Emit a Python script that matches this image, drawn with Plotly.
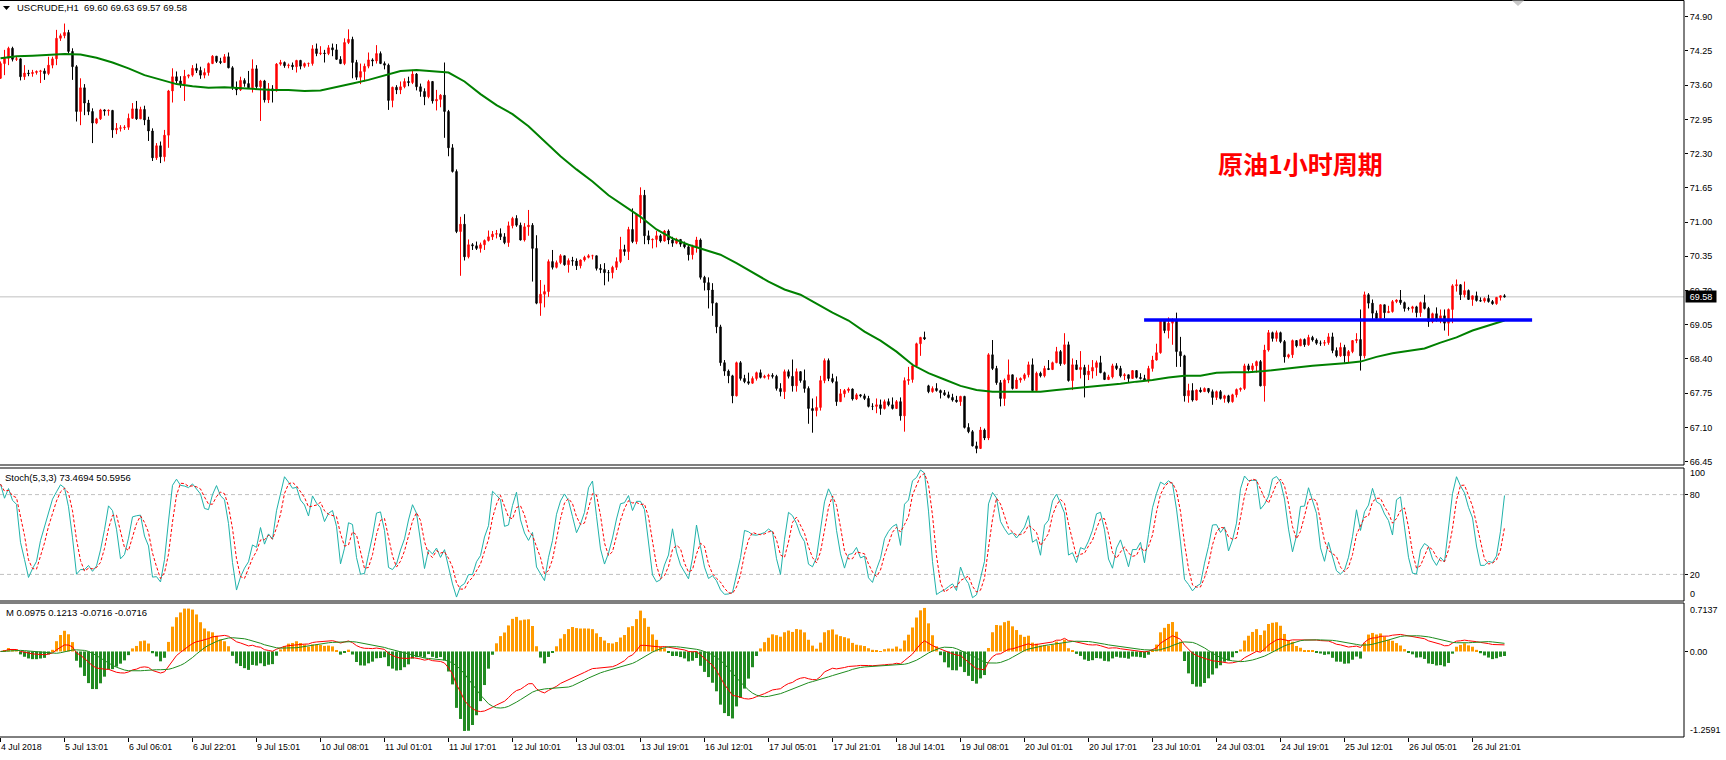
import plotly.graph_objects as go
import numpy as np

# ---------------- data ----------------
first_open = 73.73
close = [
74.01, 74.11, 74.30, 74.09, 74.10, 73.76, 73.83, 73.82, 73.84, 73.86,
73.87, 73.82, 73.98, 74.10, 74.49, 74.54, 74.60, 74.24, 73.95, 73.10,
73.55, 73.26, 73.10, 72.88, 72.96, 73.13, 73.11, 73.12, 72.75, 72.78,
72.79, 72.80, 72.97, 73.15, 72.96, 73.14, 72.94, 72.73, 72.22, 72.45,
72.24, 72.65, 73.49, 73.76, 73.68, 73.62, 73.77, 73.79, 73.92, 73.88,
73.79, 73.84, 74.01, 74.15, 74.05, 74.03, 74.14, 73.93, 73.55, 73.51,
73.69, 73.63, 73.55, 73.91, 73.57, 73.68, 73.32, 73.53, 73.49, 74.00,
74.03, 73.97, 73.98, 73.95, 74.07, 73.96, 74.01, 74.01, 74.29, 74.20,
74.21, 74.20, 74.31, 74.27, 74.09, 74.01, 74.41, 74.47, 74.03, 73.75,
73.86, 73.96, 74.08, 74.06, 74.20, 74.01, 73.98, 73.31, 73.56, 73.51,
73.57, 73.67, 73.65, 73.81, 73.57, 73.48, 73.38, 73.67, 73.30, 73.33,
73.41, 73.10, 72.41, 71.96, 70.82, 70.96, 70.34, 70.57, 70.55, 70.50,
70.57, 70.65, 70.72, 70.77, 70.78, 70.72, 70.61, 70.93, 71.07, 70.94,
70.66, 70.91, 70.94, 70.50, 69.46, 69.63, 69.68, 70.25, 70.14, 70.23,
70.36, 70.19, 70.27, 70.26, 70.17, 70.28, 70.33, 70.36, 70.36, 70.12,
70.10, 70.04, 70.04, 70.14, 70.25, 70.48, 70.44, 70.86, 70.63, 71.14,
71.51, 70.74, 70.66, 70.67, 70.74, 70.64, 70.83, 70.66, 70.60, 70.67,
70.58, 70.53, 70.38, 70.53, 70.66, 69.95, 69.85, 69.71, 69.46, 69.01,
68.33, 68.17, 68.08, 67.70, 68.33, 68.03, 67.97, 67.94, 68.03, 68.14,
68.05, 68.07, 68.09, 68.07, 67.84, 67.78, 68.16, 68.07, 67.89, 68.16,
67.99, 67.84, 67.46, 67.42, 67.48, 67.99, 68.37, 68.03, 67.97, 67.59,
67.74, 67.80, 67.83, 67.64, 67.72, 67.70, 67.65, 67.50, 67.50, 67.53,
67.46, 67.59, 67.53, 67.46, 67.59, 67.32, 67.99, 68.01, 68.27, 68.69,
68.81, 68.78, 67.78, 67.84, 67.80, 67.76, 67.72, 67.67, 67.62, 67.59,
67.69, 67.10, 67.02, 66.75, 66.70, 67.05, 66.90, 68.48, 68.22, 67.95,
67.65, 68.00, 68.10, 67.84, 68.00, 68.03, 68.10, 68.29, 67.80, 68.13,
68.08, 68.22, 68.20, 68.33, 68.54, 68.31, 68.67, 67.99, 68.29, 68.20,
68.24, 68.10, 68.17, 68.24, 68.33, 68.14, 68.01, 68.06, 68.27, 68.22,
68.08, 68.10, 68.03, 68.18, 68.05, 68.03, 68.00, 68.22, 68.38, 68.52,
69.14, 68.94, 69.08, 69.15, 68.54, 68.46, 67.70, 67.80, 67.62, 67.81,
67.78, 67.84, 67.78, 67.67, 67.78, 67.65, 67.70, 67.59, 67.72, 67.82,
67.84, 68.27, 68.20, 68.27, 68.35, 67.89, 68.57, 68.90, 68.79, 68.90,
68.73, 68.44, 68.48, 68.75, 68.65, 68.77, 68.67, 68.81, 68.76, 68.70,
68.70, 68.71, 68.82, 68.56, 68.46, 68.62, 68.46, 68.54, 68.75, 68.77,
68.46, 69.62, 69.46, 69.27, 69.17, 69.43, 69.28, 69.30, 69.49, 69.52,
69.47, 69.36, 69.36, 69.39, 69.28, 69.47, 69.36, 69.11, 69.26, 69.15,
69.22, 69.08, 69.34, 69.79, 69.81, 69.62, 69.70, 69.53, 69.60, 69.51,
69.50, 69.55, 69.49, 69.45, 69.57, 69.60, 69.58,
]
high = [
74.05, 74.27, 74.33, 74.33, 74.14, 74.11, 73.98, 73.89, 73.89, 73.88,
73.89, 73.92, 74.14, 74.14, 74.65, 74.58, 74.77, 74.65, 74.30, 73.98,
73.73, 73.62, 73.32, 73.16, 72.98, 73.15, 73.14, 73.14, 73.13, 72.88,
72.84, 72.84, 73.06, 73.26, 73.30, 73.19, 73.21, 73.00, 72.78, 72.50,
72.53, 72.75, 73.51, 73.92, 73.86, 73.77, 73.89, 73.80, 73.98, 74.01,
73.95, 73.92, 74.03, 74.17, 74.15, 74.12, 74.19, 74.22, 73.96, 73.67,
73.76, 73.73, 73.87, 74.09, 73.98, 73.70, 73.70, 73.64, 73.60, 74.02,
74.08, 74.05, 74.01, 74.03, 74.08, 74.08, 74.03, 74.03, 74.36, 74.39,
74.34, 74.27, 74.36, 74.39, 74.38, 74.15, 74.49, 74.66, 74.52, 74.08,
74.01, 74.01, 74.22, 74.11, 74.36, 74.24, 74.05, 74.01, 73.57, 73.60,
73.67, 73.73, 73.76, 73.89, 73.83, 73.63, 73.54, 73.70, 73.67, 73.51,
73.43, 74.03, 73.13, 72.48, 72.00, 71.10, 71.15, 70.67, 70.60, 70.63,
70.61, 70.67, 70.84, 70.83, 70.85, 70.88, 70.79, 71.01, 71.10, 71.13,
70.99, 70.98, 71.23, 70.98, 70.75, 69.90, 69.81, 70.29, 70.47, 70.27,
70.39, 70.36, 70.31, 70.34, 70.31, 70.29, 70.36, 70.39, 70.38, 70.34,
70.20, 70.22, 70.09, 70.17, 70.33, 70.72, 70.57, 70.91, 71.26, 71.17,
71.66, 71.61, 70.84, 70.69, 70.83, 70.77, 70.85, 70.86, 70.72, 70.70,
70.65, 70.63, 70.58, 70.57, 70.72, 70.69, 69.98, 69.95, 69.84, 69.47,
69.05, 68.38, 68.20, 68.10, 68.35, 68.36, 68.10, 68.14, 68.07, 68.16,
68.20, 68.10, 68.12, 68.13, 68.10, 67.94, 68.20, 68.20, 68.39, 68.22,
68.16, 68.20, 67.88, 67.65, 67.69, 68.08, 68.41, 68.41, 68.12, 68.07,
67.83, 67.83, 67.86, 67.84, 67.75, 67.73, 67.74, 67.70, 67.56, 67.65,
67.63, 67.63, 67.65, 67.67, 67.62, 67.67, 68.05, 68.25, 68.31, 68.71,
68.82, 68.92, 67.91, 67.88, 67.94, 67.82, 67.81, 67.78, 67.74, 67.70,
67.70, 67.70, 67.18, 67.05, 66.83, 67.11, 67.08, 68.51, 68.76, 68.27,
68.00, 68.03, 68.39, 68.10, 68.05, 68.05, 68.13, 68.35, 68.41, 68.16,
68.16, 68.27, 68.38, 68.35, 68.63, 68.57, 68.89, 68.73, 68.41, 68.38,
68.55, 68.29, 68.29, 68.38, 68.37, 68.46, 68.16, 68.10, 68.31, 68.32,
68.27, 68.13, 68.10, 68.19, 68.18, 68.13, 68.10, 68.27, 68.46, 68.69,
69.15, 69.15, 69.19, 69.17, 69.28, 68.82, 68.48, 67.93, 67.94, 67.82,
67.86, 67.86, 67.84, 67.82, 67.80, 67.81, 67.72, 67.72, 67.74, 67.84,
67.86, 68.31, 68.31, 68.32, 68.37, 68.38, 68.67, 68.95, 68.92, 68.94,
68.92, 68.76, 68.50, 68.77, 68.73, 68.79, 68.79, 68.86, 68.84, 68.79,
68.75, 68.76, 68.89, 68.90, 68.62, 68.71, 68.67, 68.57, 68.76, 68.89,
69.34, 69.68, 69.65, 69.53, 69.32, 69.44, 69.41, 69.41, 69.52, 69.53,
69.71, 69.49, 69.39, 69.41, 69.41, 69.49, 69.62, 69.39, 69.28, 69.38,
69.34, 69.34, 69.36, 69.82, 69.91, 69.82, 69.87, 69.72, 69.60, 69.68,
69.57, 69.57, 69.62, 69.52, 69.57, 69.60, 69.63,
]
low = [
73.72, 73.79, 73.98, 74.05, 74.06, 73.69, 73.70, 73.77, 73.76, 73.80,
73.64, 73.70, 73.79, 73.92, 73.98, 74.44, 74.49, 74.20, 73.70, 72.91,
72.84, 73.03, 73.03, 72.50, 72.86, 72.94, 73.02, 73.02, 72.60, 72.67,
72.72, 72.75, 72.75, 72.96, 72.94, 72.96, 72.84, 72.54, 72.16, 72.18,
72.12, 72.15, 72.41, 73.27, 73.64, 73.55, 73.30, 73.73, 73.76, 73.83,
73.72, 73.73, 73.78, 74.00, 74.02, 74.00, 74.02, 73.92, 73.51, 73.41,
73.49, 73.57, 73.54, 73.46, 73.51, 72.92, 73.27, 73.26, 73.27, 73.48,
73.97, 73.93, 73.92, 73.89, 73.84, 73.90, 73.93, 73.95, 73.97, 74.15,
74.17, 74.03, 74.17, 74.15, 74.08, 74.00, 73.98, 74.38, 73.73, 73.70,
73.62, 73.67, 73.92, 73.96, 74.01, 74.00, 73.90, 73.13, 73.18, 73.43,
73.43, 73.54, 73.58, 73.62, 73.50, 73.38, 73.22, 73.35, 73.25, 73.12,
73.18, 72.60, 72.25, 71.94, 70.79, 69.98, 70.27, 70.31, 70.47, 70.47,
70.42, 70.47, 70.63, 70.66, 70.69, 70.66, 70.58, 70.53, 70.88, 70.91,
70.65, 70.63, 70.74, 69.87, 69.44, 69.22, 69.38, 69.58, 70.10, 70.12,
70.20, 70.17, 70.04, 70.17, 70.09, 70.12, 70.25, 70.31, 70.29, 70.08,
70.03, 69.80, 69.87, 69.93, 70.09, 70.22, 70.36, 70.28, 70.60, 70.58,
70.98, 70.58, 70.58, 70.50, 70.52, 70.61, 70.63, 70.58, 70.53, 70.58,
70.53, 70.50, 70.27, 70.29, 70.42, 69.91, 69.70, 69.36, 69.22, 68.89,
68.27, 68.08, 67.94, 67.56, 67.69, 67.99, 67.94, 67.91, 67.93, 67.99,
68.03, 68.03, 68.01, 68.03, 67.80, 67.69, 67.64, 68.03, 67.78, 67.78,
67.95, 67.76, 67.17, 67.00, 67.31, 67.42, 67.94, 67.98, 67.94, 67.51,
67.59, 67.67, 67.76, 67.61, 67.62, 67.67, 67.62, 67.48, 67.43, 67.37,
67.34, 67.44, 67.50, 67.44, 67.45, 67.23, 67.02, 67.91, 67.95, 68.24,
68.46, 68.76, 67.75, 67.76, 67.78, 67.65, 67.70, 67.65, 67.59, 67.57,
67.51, 67.08, 66.99, 66.74, 66.61, 66.69, 66.86, 66.86, 68.19, 67.91,
67.50, 67.51, 67.94, 67.82, 67.91, 67.95, 67.99, 68.05, 67.79, 67.88,
68.05, 68.05, 68.19, 68.19, 68.32, 68.27, 68.29, 67.97, 67.81, 68.19,
68.03, 67.67, 68.00, 68.03, 68.08, 68.13, 68.00, 68.00, 68.03, 68.19,
68.05, 68.00, 67.95, 68.05, 68.03, 68.01, 67.99, 67.95, 68.16, 68.37,
68.50, 68.89, 68.79, 68.67, 68.25, 68.25, 67.59, 67.57, 67.59, 67.61,
67.76, 67.78, 67.75, 67.53, 67.62, 67.63, 67.57, 67.56, 67.57, 67.67,
67.78, 67.81, 68.16, 68.14, 68.14, 67.88, 67.59, 68.54, 68.73, 68.73,
68.70, 68.33, 68.41, 68.42, 68.62, 68.65, 68.63, 68.65, 68.73, 68.67,
68.65, 68.65, 68.67, 68.51, 68.43, 68.44, 68.33, 68.33, 68.51, 68.70,
68.18, 68.41, 69.36, 69.15, 69.15, 69.15, 69.17, 69.28, 69.28, 69.46,
69.43, 69.30, 69.32, 69.28, 69.19, 69.20, 69.34, 69.01, 69.08, 69.11,
69.08, 68.94, 68.84, 69.08, 69.68, 69.52, 69.57, 69.52, 69.41, 69.49,
69.49, 69.47, 69.47, 69.43, 69.43, 69.51, 69.57,
]
gap_open = {232: 67.89}

# moving average read every 4 bars
ma_step = 4
ma_vals = [
74.11, 74.15, 74.16, 74.17, 74.19, 74.18, 74.12, 74.03, 73.92, 73.79,
73.70, 73.62, 73.58, 73.55, 73.56, 73.54, 73.53, 73.51, 73.51, 73.49,
73.50, 73.56, 73.63, 73.70, 73.79, 73.87, 73.89, 73.87, 73.84, 73.67,
73.43, 73.22, 73.05, 72.82, 72.53, 72.25, 72.00, 71.77, 71.51, 71.30,
71.10, 70.86, 70.69, 70.57, 70.48, 70.38, 70.22, 70.04, 69.87, 69.72,
69.62, 69.45, 69.28, 69.13, 68.92, 68.75, 68.54, 68.29, 68.13, 68.01,
67.89, 67.81, 67.78, 67.78, 67.78, 67.78, 67.81, 67.84, 67.86, 67.89,
67.93, 67.97, 68.00, 68.05, 68.08, 68.08, 68.14, 68.15, 68.15, 68.17,
68.21, 68.24, 68.27, 68.29, 68.32, 68.35, 68.44, 68.51, 68.56, 68.60,
68.71, 68.81, 68.94, 69.03, 69.13,
]

tick_every = 16
tick_labels = [
    "4 Jul 2018", "5 Jul 13:01", "6 Jul 06:01", "6 Jul 22:01", "9 Jul 15:01",
    "10 Jul 08:01", "11 Jul 01:01", "11 Jul 17:01", "12 Jul 10:01", "13 Jul 03:01",
    "13 Jul 19:01", "16 Jul 12:01", "17 Jul 05:01", "17 Jul 21:01", "18 Jul 14:01",
    "19 Jul 08:01", "20 Jul 01:01", "20 Jul 17:01", "23 Jul 10:01", "24 Jul 03:01",
    "24 Jul 19:01", "25 Jul 12:01", "26 Jul 05:01", "26 Jul 21:01",
]
price_ticks = [66.45, 67.10, 67.75, 68.40, 69.05, 69.70, 70.35, 71.00,
               71.65, 72.30, 72.95, 73.60, 74.25, 74.90]
last_price = 69.58
blue_level = 69.14
blue_bars = [285.9, 382.9]
macd_max, macd_min = 0.7137, -1.2591
title_text = "USCRUDE,H1\u00a0\u00a069.60 69.63 69.57 69.58"
stoch_text = "Stoch(5,3,3) 73.4694 50.5956"
macd_text = "M 0.0975 0.1213 -0.0716 -0.0716"
note_text = "原油1小时周期"

# ---------------- derived series ----------------
n = min(len(close), len(high), len(low))
close = close[:n]
xs = list(range(n))
opens = [first_open] + close[:-1]
for k, v in gap_open.items():
    if k < n:
        opens[k] = v
hi = [max(h, o, c) for h, o, c in zip(high[:n], opens, close)]
lo = [min(l, o, c) for l, o, c in zip(low[:n], opens, close)]

C = np.array(close); H = np.array(hi); L = np.array(lo)
num = np.zeros(n); den = np.zeros(n)
for i in range(n):
    a = max(0, i - 4)
    ll = L[a:i + 1].min(); hh = H[a:i + 1].max()
    num[i] = C[i] - ll; den[i] = hh - ll
K = np.zeros(n)
for i in range(n):
    a = max(0, i - 2)
    d = den[a:i + 1].sum()
    K[i] = 100 * num[a:i + 1].sum() / d if d > 0 else 50
D = np.array([K[max(0, i - 2):i + 1].mean() for i in range(n)])


def ema(v, p):
    al = 2.0 / (p + 1)
    out = [v[0]]
    for val in v[1:]:
        out.append(out[-1] + al * (val - out[-1]))
    return np.array(out)


macd = ema(C, 12) - ema(C, 26)
sig = np.array([macd[max(0, i - 8):i + 1].mean() for i in range(n)])
hist = 3 * (macd - sig)
hist_colors = ["#FF9A00" if v >= 0 else "#228B22" for v in hist]

# ---------------- geometry ----------------
PLOT_W = 1684
PLOT_H = 737
FONT = "Liberation Sans, Arial, sans-serif"


def py(p):
    return 1 - p / PLOT_H


def pxp(p):
    return p / PLOT_W


fig = go.Figure()
fig.add_trace(go.Candlestick(
    x=xs, open=opens, high=hi, low=lo, close=close,
    increasing=dict(line=dict(color="#ff0000", width=1), fillcolor="#ff0000"),
    decreasing=dict(line=dict(color="#000000", width=1), fillcolor="#000000"),
    whiskerwidth=0, xaxis="x", yaxis="y", showlegend=False, hoverinfo="skip"))
fig.add_trace(go.Scatter(
    x=[i * ma_step for i in range(len(ma_vals))], y=ma_vals, mode="lines",
    line=dict(color="#008000", width=2), xaxis="x", yaxis="y", hoverinfo="skip"))
fig.add_trace(go.Scatter(
    x=blue_bars, y=[blue_level, blue_level], mode="lines",
    line=dict(color="#0000ff", width=3.5), xaxis="x", yaxis="y", hoverinfo="skip"))
fig.add_trace(go.Scatter(
    x=xs, y=K, mode="lines", line=dict(color="#20B2AA", width=1),
    xaxis="x", yaxis="y2", hoverinfo="skip"))
fig.add_trace(go.Scatter(
    x=xs, y=D, mode="lines", line=dict(color="#ff0000", width=1, dash="3px,2px"),
    xaxis="x", yaxis="y2", hoverinfo="skip"))
fig.add_trace(go.Bar(
    x=xs, y=hist, width=0.75, marker=dict(color=hist_colors, line=dict(width=0)),
    xaxis="x", yaxis="y3", hoverinfo="skip"))
fig.add_trace(go.Scatter(
    x=xs, y=macd, mode="lines", line=dict(color="#ff0000", width=1),
    xaxis="x", yaxis="y3", hoverinfo="skip"))
fig.add_trace(go.Scatter(
    x=xs, y=sig, mode="lines", line=dict(color="#1E8C1E", width=1),
    xaxis="x", yaxis="y3", hoverinfo="skip"))

axis_common = dict(showgrid=False, zeroline=False, side="right", anchor="x",
                   ticks="outside", ticklen=3, tickcolor="black", fixedrange=True,
                   tickfont=dict(size=9, color="black", family=FONT), showline=False)

fig.update_layout(
    width=1726, height=760,
    margin=dict(l=0, r=1726 - PLOT_W, t=0, b=760 - PLOT_H),
    paper_bgcolor="white", plot_bgcolor="white",
    showlegend=False, boxgap=0.5, bargap=0.25,
    font=dict(family=FONT, size=9, color="black"),
    xaxis=dict(domain=[0, 1], range=[-0.125, (PLOT_W - 0.5) / 4], anchor="y3",
               showgrid=False, zeroline=False, showticklabels=False,
               ticks="outside", ticklen=4, tickcolor="black",
               tickvals=[tick_every * k for k in range(len(tick_labels))],
               rangeslider=dict(visible=False), fixedrange=True, showline=False),
    yaxis=dict(domain=[py(465), 1], range=[66.3869, 75.2171],
               tickvals=price_ticks, ticktext=[f"{v:.2f}" for v in price_ticks],
               **axis_common),
    yaxis2=dict(domain=[py(601), py(468)], range=[0, 100],
                tickvals=[80, 20], ticktext=["80", "20"], **axis_common),
    yaxis3=dict(domain=[0, py(603)], range=[macd_min, macd_max],
                tickvals=[0], ticktext=["0.00"], **axis_common),
)

shapes = []
for top, bot in [(0.5, 465), (468, 601), (603, 737)]:
    shapes.append(dict(type="rect", xref="paper", yref="paper", x0=-0.01, x1=1,
                       y0=py(bot), y1=py(top), line=dict(color="black", width=1),
                       fillcolor="rgba(0,0,0,0)", layer="above"))
shapes.append(dict(type="line", xref="paper", yref="y", x0=0, x1=1,
                   y0=last_price, y1=last_price, line=dict(color="#C0C0C0", width=1),
                   layer="below"))
for lv in (80, 20):
    shapes.append(dict(type="line", xref="paper", yref="y2", x0=0, x1=1, y0=lv, y1=lv,
                       line=dict(color="#C0C0C0", width=1, dash="4px,3px"), layer="below"))
# small menu triangle at top-left
shapes.append(dict(type="path", xref="paper", yref="paper",
                   path=f"M {pxp(3)},{py(6)} L {pxp(10)},{py(6)} L {pxp(6.5)},{py(10)} Z",
                   fillcolor="black", line=dict(width=0)))
# chart-shift marker at top
shapes.append(dict(type="path", xref="paper", yref="paper",
                   path=f"M {pxp(1512)},{py(0.5)} L {pxp(1524)},{py(0.5)} L {pxp(1518)},{py(6)} Z",
                   fillcolor="#C8C8C8", line=dict(width=0)))
fig.update_layout(shapes=shapes)

ann = []
for k, t in enumerate(tick_labels):
    ann.append(dict(x=tick_every * k, xref="x", y=0, yref="paper", text=t,
                    xanchor="left", yanchor="top", yshift=-3, xshift=-2, showarrow=False,
                    font=dict(size=8.8, color="black", family=FONT)))
for txt, ypx in [("100", 473), ("0", 594), (f"{macd_max:.4f}", 610), (f"{macd_min:.4f}", 730)]:
    ann.append(dict(x=1, xref="paper", y=py(ypx), yref="paper", text=txt,
                    xanchor="left", yanchor="middle", xshift=4, showarrow=False,
                    font=dict(size=9, color="black", family=FONT)))
ann.append(dict(x=1, xref="paper", y=last_price, yref="y", text=f"{last_price:.2f}",
                xanchor="left", yanchor="middle", xshift=1, showarrow=False,
                bgcolor="black", width=30, height=11, borderpad=0,
                font=dict(size=9, color="white", family=FONT)))
ann.append(dict(x=pxp(15), xref="paper", y=py(8), yref="paper", text=title_text,
                xanchor="left", yanchor="middle", showarrow=False,
                font=dict(size=9.5, color="black", family=FONT)))
ann.append(dict(x=pxp(3), xref="paper", y=py(477), yref="paper", text=stoch_text,
                xanchor="left", yanchor="middle", showarrow=False,
                font=dict(size=9.5, color="black", family=FONT)))
ann.append(dict(x=pxp(4), xref="paper", y=py(612), yref="paper", text=macd_text,
                xanchor="left", yanchor="middle", showarrow=False,
                font=dict(size=9.5, color="black", family=FONT)))
ann.append(dict(x=pxp(1300), xref="paper", y=py(163), yref="paper", text=f"<b>{note_text}</b>",
                xanchor="center", yanchor="middle", showarrow=False,
                font=dict(size=25, color="#ff0000", family="Noto Sans CJK SC")))
fig.update_layout(annotations=ann)

fig.write_html("out.html")
